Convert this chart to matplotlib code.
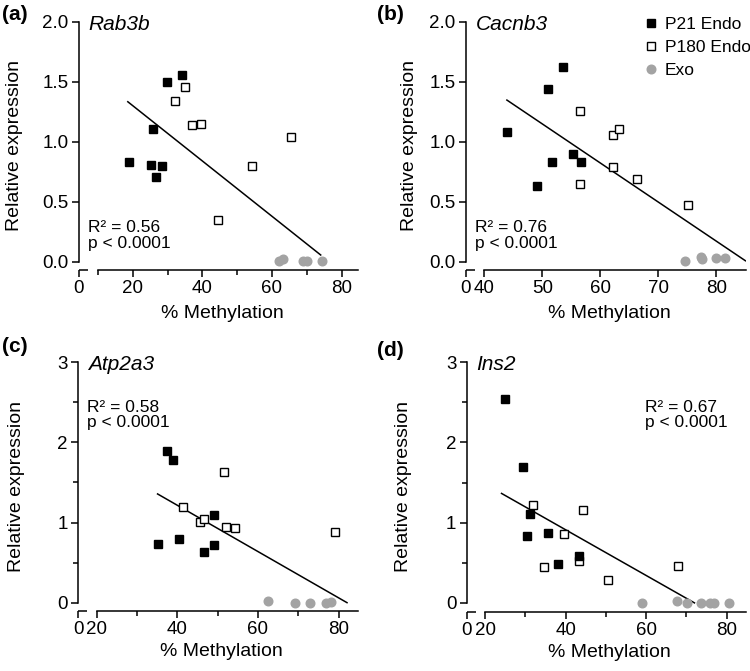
import matplotlib
matplotlib.use("Agg")
import matplotlib.pyplot as plt
from matplotlib.lines import Line2D

plt.rcParams['font.family'] = ['Liberation Sans', 'DejaVu Sans']

# ---------------- data ----------------
# Panel (a) Rab3b
a_p21_x = [19.0, 25.2, 25.7, 28.5, 26.7, 29.9, 34.1]
a_p21_y = [0.83, 0.81, 1.11, 0.80, 0.71, 1.50, 1.56]
a_p180_x = [32.2, 35.1, 37.1, 39.5, 65.6, 54.3, 44.5]
a_p180_y = [1.34, 1.46, 1.14, 1.15, 1.04, 0.80, 0.35]
a_exo_x = [62.1, 63.2, 68.8, 70.1, 74.3]
a_exo_y = [0.01, 0.02, 0.01, 0.01, 0.01]
a_fit_x = [18.6, 74.0]
a_fit_y = [1.333, 0.056]

# Panel (b) Cacnb3
b_p21_x = [44.0, 49.1, 51.0, 51.7, 53.6, 55.3, 56.6]
b_p21_y = [1.08, 0.63, 1.44, 0.83, 1.62, 0.90, 0.83]
b_p180_x = [56.5, 56.5, 62.1, 62.1, 63.3, 66.3, 75.1]
b_p180_y = [1.26, 0.65, 0.79, 1.06, 1.11, 0.69, 0.47]
b_exo_x = [74.6, 77.4, 77.5, 79.9, 81.4]
b_exo_y = [0.01, 0.04, 0.02, 0.03, 0.03]
b_fit_x = [43.9, 85.0]
b_fit_y = [1.347, 0.008]

# Panel (c) Atp2a3
c_p21_x = [35.1, 37.4, 39.0, 40.5, 46.6, 49.2, 49.2]
c_p21_y = [0.73, 1.89, 1.78, 0.80, 0.63, 1.09, 0.72]
c_p180_x = [41.3, 45.6, 46.6, 51.7, 52.1, 54.3, 79.1]
c_p180_y = [1.20, 1.01, 1.04, 1.63, 0.95, 0.93, 0.88]
c_exo_x = [62.6, 69.3, 72.8, 76.8, 78.1]
c_exo_y = [0.02, 0.0, 0.0, 0.0, 0.01]
c_fit_x = [35.1, 82.1]
c_fit_y = [1.357, 0.0]

# Panel (d) Ins2
d_p21_x = [24.9, 29.5, 30.3, 31.1, 35.6, 38.2, 43.3]
d_p21_y = [2.54, 1.69, 0.84, 1.11, 0.87, 0.48, 0.58]
d_p180_x = [32.0, 34.6, 39.7, 43.3, 44.4, 50.6, 68.0]
d_p180_y = [1.22, 0.45, 0.86, 0.52, 1.16, 0.29, 0.46]
d_exo_x = [58.9, 67.6, 70.2, 73.6, 75.9, 76.9, 80.7]
d_exo_y = [0.0, 0.02, 0.0, 0.0, 0.0, 0.0, 0.0]
d_fit_x = [24.1, 72.0]
d_fit_y = [1.365, 0.0]

genes = ['Rab3b', 'Cacnb3', 'Atp2a3', 'Ins2']
panel_tags = ['(a)', '(b)', '(c)', '(d)']
r2_texts = ['R² = 0.56', 'R² = 0.76', 'R² = 0.58', 'R² = 0.67']
p_text = 'p < 0.0001'
series_names = ['P21 Endo', 'P180 Endo', 'Exo']

# x-axis: main ticks and the broken "0" tick
x_major = {
    'a': [20, 40, 60, 80],
    'b': [40, 50, 60, 70, 80],
    'c': [20, 40, 60, 80],
    'd': [20, 40, 60, 80],
}
x_minor = {
    'a': [10, 30, 50, 70],
    'b': [],
    'c': [30, 50, 70],
    'd': [30, 50, 70],
}

# ---------------- layout ----------------
W, H = 750, 671
fig = plt.figure(figsize=(7.5, 6.71), dpi=100)


def px_rect(x0, x1, ytop, ybot):
    return [x0 / W, 1 - ybot / H, (x1 - x0) / W, (ybot - ytop) / H]


panels = {
    'a': dict(rect=px_rect(79, 358.3, 21.7, 270), xlim=(4.58, 84.8), ylim=(-0.069, 2.0),
              xstart=10, yticks=[0, 0.5, 1.0, 1.5, 2.0], yminor=[], yfmt='%.1f',
              data=(a_p21_x, a_p21_y, a_p180_x, a_p180_y, a_exo_x, a_exo_y, a_fit_x, a_fit_y),
              gene=genes[0], tag=panel_tags[0], r2=r2_texts[0], stat_pos=(0.033, 0.152, 0.087),
              tagpos=(2 / W, 1 - 20 / H), ylab_x=-0.20, xlab_y=-0.14),
    'b': dict(rect=px_rect(465.7, 746, 21.7, 270), xlim=(36.8, 85.1), ylim=(-0.069, 2.0),
              xstart=40, yticks=[0, 0.5, 1.0, 1.5, 2.0], yminor=[], yfmt='%.1f',
              data=(b_p21_x, b_p21_y, b_p180_x, b_p180_y, b_exo_x, b_exo_y, b_fit_x, b_fit_y),
              gene=genes[1], tag=panel_tags[1], r2=r2_texts[1], stat_pos=(0.033, 0.152, 0.087),
              tagpos=(377 / W, 1 - 20 / H), ylab_x=-0.17, xlab_y=-0.14),
    'c': dict(rect=px_rect(78, 358.3, 362.3, 611), xlim=(15.36, 84.9), ylim=(-0.104, 3.0),
              xstart=20, yticks=[0, 1, 2, 3], yminor=[0.5, 1.5, 2.5], yfmt='%d',
              data=(c_p21_x, c_p21_y, c_p180_x, c_p180_y, c_exo_x, c_exo_y, c_fit_x, c_fit_y),
              gene=genes[2], tag=panel_tags[2], r2=r2_texts[2], stat_pos=(0.033, 0.801, 0.739),
              tagpos=(2 / W, 1 - 352 / H), ylab_x=-0.19, xlab_y=-0.13),
    'd': dict(rect=px_rect(466.7, 746, 362.3, 611.7), xlim=(15.45, 84.8), ylim=(-0.11, 3.0),
              xstart=20, yticks=[0, 1, 2, 3], yminor=[0.5, 1.5, 2.5], yfmt='%d',
              data=(d_p21_x, d_p21_y, d_p180_x, d_p180_y, d_exo_x, d_exo_y, d_fit_x, d_fit_y),
              gene=genes[3], tag=panel_tags[3], r2=r2_texts[3], stat_pos=(0.638, 0.801, 0.739),
              tagpos=(377 / W, 1 - 356 / H), ylab_x=-0.197, xlab_y=-0.13),
}

GRAY = '#a3a3a3'
SQ = 5.6
CI = 6.2
TICK_FS = 13.5
LABEL_FS = 14
STAT_FS = 12.5

for key, P in panels.items():
    ax = fig.add_axes(P['rect'])
    p21x, p21y, p180x, p180y, exox, exoy, fitx, fity = P['data']

    ax.plot(fitx, fity, color='black', lw=1.1, zorder=2)
    ax.plot(exox, exoy, 'o', ms=CI, color=GRAY, mec=GRAY, zorder=3, clip_on=False)
    ax.plot(p180x, p180y, 's', ms=SQ, mfc='white', mec='black', mew=1.0, zorder=4)
    ax.plot(p21x, p21y, 's', ms=SQ, mfc='black', mec='black', mew=1.0, zorder=5)

    ax.set_xlim(*P['xlim'])
    ax.set_ylim(*P['ylim'])

    for s in ['top', 'right']:
        ax.spines[s].set_visible(False)
    for s in ['left', 'bottom']:
        ax.spines[s].set_linewidth(1.1)
    ax.spines['left'].set_bounds(0, P['ylim'][1])
    ax.spines['bottom'].set_bounds(P['xstart'], P['xlim'][1])

    # broken-axis "0" stub on x axis
    ax.plot([0, 0.032], [0, 0], transform=ax.transAxes, color='black', lw=1.1,
            clip_on=False, solid_capstyle='butt')

    xt = [P['xlim'][0]] + x_major[key]
    ax.set_xticks(xt)
    ax.set_xticklabels(['0'] + [str(v) for v in x_major[key]])
    ax.set_xticks(x_minor[key], minor=True)

    ax.set_yticks(P['yticks'])
    ax.set_yticklabels([P['yfmt'] % v for v in P['yticks']])
    ax.set_yticks(P['yminor'], minor=True)

    ax.tick_params(which='major', direction='out', length=5, width=1.1,
                   labelsize=TICK_FS, pad=2.5)
    ax.tick_params(which='minor', direction='out', length=3.5, width=1.1)

    ax.set_xlabel('% Methylation', fontsize=LABEL_FS)
    ax.xaxis.set_label_coords(0.512, P['xlab_y'])
    ax.set_ylabel('Relative expression', fontsize=LABEL_FS)
    ax.yaxis.set_label_coords(P['ylab_x'], 0.5)

    ax.text(0.035, 0.968, P['gene'], transform=ax.transAxes, fontsize=15,
            style='italic', ha='left', va='baseline')
    sx, sy1, sy2 = P['stat_pos']
    ax.text(sx, sy1, P['r2'], transform=ax.transAxes, fontsize=STAT_FS,
            ha='left', va='baseline')
    ax.text(sx, sy2, p_text, transform=ax.transAxes, fontsize=STAT_FS,
            ha='left', va='baseline')

    fig.text(P['tagpos'][0], P['tagpos'][1], P['tag'], fontsize=15,
             fontweight='bold', ha='left', va='baseline')

    if key == 'b':
        handles = [
            Line2D([], [], ls='none', marker='s', ms=SQ, mfc='black', mec='black'),
            Line2D([], [], ls='none', marker='s', ms=SQ, mfc='white', mec='black'),
            Line2D([], [], ls='none', marker='o', ms=CI, mfc=GRAY, mec=GRAY),
        ]
        ax.legend(handles, series_names, loc='upper left', bbox_to_anchor=(0.64, 1.02),
                  frameon=False, fontsize=STAT_FS, handlelength=0.7, handletextpad=0.45,
                  labelspacing=0.45, borderaxespad=0, borderpad=0)

fig.savefig('out.png', dpi=100)
